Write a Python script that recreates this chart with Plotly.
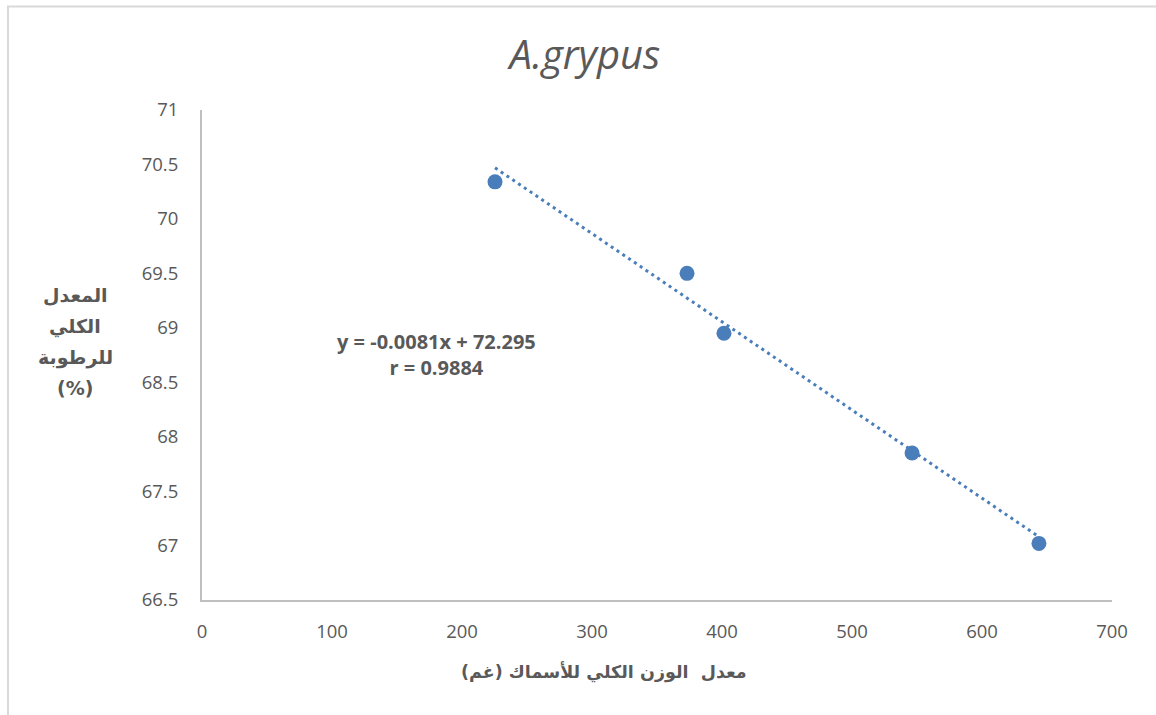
import numpy as np
import plotly.graph_objects as go

# Mean total fish weight (g) and mean total moisture (%)
weight_g = [225.4, 373.1, 401.5, 546.2, 643.8]
moisture_pct = [70.34, 69.50, 68.95, 67.85, 67.02]

# Linear fit reported on the chart
slope = -0.0081
intercept = 72.295
r_value = 0.9884

x_ticks = [0, 100, 200, 300, 400, 500, 600, 700]
y_ticks = [66.5, 67, 67.5, 68, 68.5, 69, 69.5, 70, 70.5, 71]

y_title_lines = ["المعدل", "الكلي", "للرطوبة", "(%)"]
x_title = "معدل  الوزن الكلي للأسماك (غم)"

blue = "#4a7ebb"
grey_text = "#595959"
axis_grey = "#bfbfbf"
latin_font = "Open Sans, DejaVu Sans, sans-serif"
arabic_font = "DejaVu Sans, Noto Sans, sans-serif"

trend_x = np.array([min(weight_g), max(weight_g)])
trend_y = slope * trend_x + intercept

fig = go.Figure()
fig.add_trace(go.Scatter(
    x=trend_x, y=trend_y, mode="lines",
    line=dict(color=blue, width=3, dash="3px,4px"),
    hoverinfo="skip", showlegend=False,
))
fig.add_trace(go.Scatter(
    x=weight_g, y=moisture_pct, mode="markers",
    marker=dict(color=blue, size=15),
    showlegend=False,
))

# Stacked y-axis title, one annotation per line
annotations = []
for i, line in enumerate(y_title_lines):
    annotations.append(dict(
        text=line, xref="paper", yref="paper",
        x=-0.1395, y=(600 - (295 + 31 * i)) / 490,
        xanchor="center", yanchor="middle", showarrow=False,
        font=dict(family=arabic_font, size=19, color=grey_text, weight="bold"),
    ))

annotations.append(dict(
    text=x_title, xref="paper", yref="paper", x=0.4418, y=-0.147,
    xanchor="center", yanchor="middle", showarrow=False,
    font=dict(family=arabic_font, size=17.5, color=grey_text, weight="bold"),
))
annotations.append(dict(
    text=f"y = {slope}x + {intercept}<br>r = {r_value}",
    xref="paper", yref="paper", x=0.258, y=0.501,
    xanchor="center", yanchor="middle", showarrow=False, align="center",
    font=dict(family=latin_font, size=20, color=grey_text, weight="bold"),
))

fig.update_layout(
    width=1156, height=715,
    margin=dict(l=202, r=44, t=110, b=115),
    paper_bgcolor="white", plot_bgcolor="white",
    font=dict(family=latin_font, color=grey_text, size=18),
    title=dict(
        text="<i>A.grypus</i>", x=0.506, xanchor="center", y=0.923, yanchor="middle",
        font=dict(family=latin_font, size=40, color=grey_text),
    ),
    xaxis=dict(
        range=[0, 700], tickvals=x_ticks, ticktext=[str(v) for v in x_ticks],
        showgrid=False, zeroline=False, showline=True, linecolor=axis_grey, linewidth=2,
        ticks="", ticklabelstandoff=14, tickfont=dict(size=18.5, color=grey_text),
    ),
    yaxis=dict(
        range=[66.5, 71], tickvals=y_ticks, ticktext=[f"{v:g}" for v in y_ticks],
        showgrid=False, zeroline=False, showline=True, linecolor=axis_grey, linewidth=2,
        ticks="", ticklabelstandoff=18, tickfont=dict(size=18.5, color=grey_text),
    ),
    shapes=[dict(
        type="rect", xref="paper", yref="paper",
        x0=-0.2132, x1=1.2, y0=-0.5, y1=1.2112,
        line=dict(color="#d9d9d9", width=2), fillcolor="rgba(0,0,0,0)", layer="below",
    )],
    annotations=annotations,
)

fig.write_html("out.html")
